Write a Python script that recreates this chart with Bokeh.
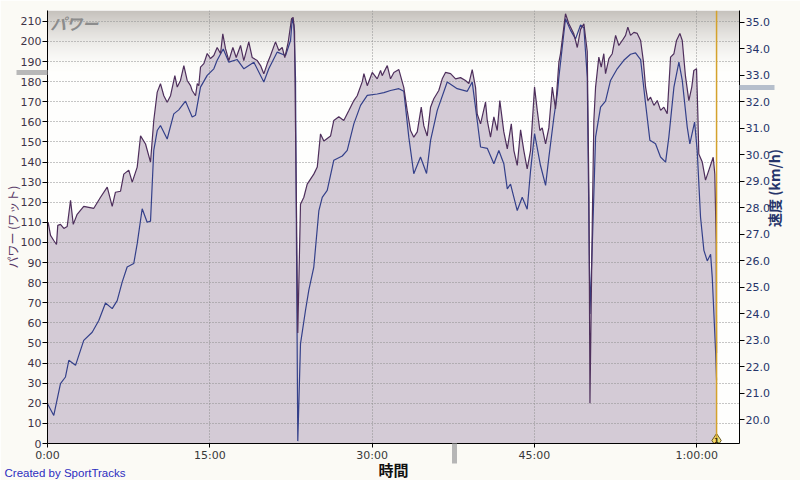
import numpy as np
from bokeh.plotting import figure
from bokeh.models import (Range1d, LinearAxis, FixedTicker, Span, Label, Title,
                          NumeralTickFormatter)
from bokeh.embed import file_html
from bokeh.resources import INLINE

# ---------------- data (minutes, watts / km/h) ----------------
power_min = [0.00, 0.06, 0.28, 0.58, 0.83, 0.95, 1.20, 1.51, 1.82, 2.13, 2.38, 2.74,
             3.35, 4.28, 4.90, 5.52, 5.98, 6.28, 6.75, 7.05, 7.51, 7.83, 8.29, 8.60,
             9.06, 9.52, 9.82, 10.14, 10.44, 10.75, 11.06, 11.37, 11.77, 11.99, 12.29, 12.60,
             12.91, 13.22, 13.37, 13.68, 13.84, 13.98, 14.14, 14.45, 14.76, 15.06, 15.37, 15.68,
             15.99, 16.20, 16.45, 16.76, 17.13, 17.44, 17.84, 18.14, 18.60, 18.92, 19.38, 19.69,
             19.99, 20.31, 20.61, 21.07, 21.38, 21.69, 21.93, 22.25, 22.55, 22.70, 22.83, 22.92,
             23.01, 23.13, 23.38, 23.69, 24.00, 24.61, 24.93, 25.23, 25.54, 26.16, 26.46, 26.92,
             27.38, 27.85, 28.31, 28.62, 29.09, 29.24, 29.55, 30.01, 30.47, 30.78, 30.93, 31.40,
             31.70, 32.01, 32.47, 32.93, 33.24, 33.55, 33.85, 34.17, 34.54, 34.78, 35.09, 35.40,
             35.70, 36.16, 36.48, 36.78, 37.25, 37.71, 38.17, 38.63, 38.94, 39.25, 39.56, 39.71,
             40.02, 40.48, 40.64, 40.94, 41.25, 41.56, 41.80, 42.17, 42.49, 42.86, 43.10, 43.41,
             43.72, 44.02, 44.33, 44.64, 45.01, 45.26, 45.50, 45.72, 46.03, 46.33, 46.65, 46.95,
             47.26, 47.41, 47.87, 48.18, 48.64, 48.96, 49.26, 49.57, 49.88, 50.04, 50.13, 50.35,
             50.49, 50.65, 50.95, 51.17, 51.41, 51.57, 51.88, 52.19, 52.50, 52.80, 53.12, 53.42,
             53.63, 53.88, 54.19, 54.50, 54.81, 55.06, 55.27, 55.48, 55.73, 56.04, 56.35, 56.66,
             56.96, 57.27, 57.58, 57.89, 58.13, 58.44, 58.66, 58.96, 59.27, 59.54, 59.73, 59.98,
             60.10, 60.19, 60.51, 60.81, 61.12, 61.52, 61.67, 61.80, 61.83]
power_w = [108, 110, 103.5, 101, 99, 108.5, 109, 107, 108, 121, 109, 114,
           118, 117, 122.5, 127.5, 118, 125, 125.5, 134, 136, 130, 137.5, 153,
           149, 140, 160.7, 174.8, 179, 173, 169.8, 173, 183, 177.3, 180.6, 188,
           180.6, 178, 175.6, 173, 179, 178, 187.2, 189, 194, 191.5, 193, 197,
           194, 203.8, 196.4, 190.5, 197, 192, 198, 190.5, 199.8, 192, 190.5, 188,
           183.9, 189, 193, 199.8, 195.5, 197, 192, 199.8, 211.3, 212, 205, 157,
           116, 55, 119, 122.5, 129, 134, 137.5, 154, 150.5, 153, 160.7, 162.5,
           160.7, 165.7, 170.6, 173, 180, 184, 178, 184.6, 181.4, 185.6, 183, 188,
           181.4, 184.6, 186, 177, 165.7, 155.7, 152.4, 155, 167.3, 158, 153, 167.3,
           171.5, 175.6, 181.4, 184.6, 184, 181.4, 182, 180.6, 179, 186, 177, 164,
           159, 169.8, 160.7, 152.4, 162.5, 155.7, 170.6, 155, 146.6, 159, 145.7, 138.3,
           156, 145.7, 136.6, 145.7, 177.3, 165.7, 155.7, 157, 149, 157, 177.3, 166.5,
           189.7, 194, 213.8, 208.8, 203.8, 197, 206, 208.8, 195, 122.5, 20, 112.6,
           160.7, 177.3, 192.2, 187.2, 193.9, 184, 191.5, 193.9, 203, 198, 200.5, 203,
           207.1, 203, 204.5, 204, 200.5, 190.5, 177.3, 170.6, 172.3, 168.2, 170.6, 165.7,
           167.3, 164, 192.2, 193.9, 200.5, 204, 200.5, 182.6, 170.6, 177.3, 185.6, 186.4,
           164, 144, 140, 131, 136, 142.4, 134, 99, 45]

speed_min = [0.00, 0.58, 1.20, 1.66, 1.97, 2.59, 3.35, 4.13, 4.74, 5.36, 5.98, 6.44,
             6.90, 7.36, 7.97, 8.29, 8.75, 9.21, 9.52, 9.82, 10.14, 10.44, 11.06, 11.67,
             12.13, 12.75, 13.37, 13.68, 14.14, 14.76, 15.37, 15.68, 16.24, 16.76, 17.53,
             18.15, 19.07, 19.99, 20.45, 21.23, 22.00, 22.46, 22.62, 22.77, 22.92, 23.01,
             23.13, 23.38, 23.84, 24.15, 24.61, 25.08, 25.39, 25.85, 26.46, 27.24, 27.70,
             28.31, 28.93, 29.55, 30.47, 31.09, 31.70, 32.47, 32.93, 33.39, 33.85, 34.47,
             35.03, 35.40, 36.02, 36.94, 37.86, 38.79, 39.25, 39.71, 40.02, 40.64, 41.25,
             41.71, 42.17, 42.49, 42.79, 43.10, 43.41, 43.87, 44.33, 44.64, 45.01, 45.56,
             46.03, 46.33, 46.49, 46.80, 47.11, 47.26, 47.57, 47.87, 48.34, 48.80, 49.26,
             49.57, 49.88, 50.13, 50.35, 50.65, 51.11, 51.57, 52.03, 52.65, 53.26, 53.88,
             54.34, 54.81, 55.27, 55.67, 56.19, 56.65, 57.12, 57.42, 57.89, 58.35, 58.66,
             59.12, 59.36, 59.80, 60.04, 60.35, 60.66, 60.97, 61.28, 61.43, 61.74, 61.83]
speed_kmh = [20.61, 20.17, 21.37, 21.62, 22.25, 22.06, 23.0, 23.31, 23.75, 24.41, 24.2, 24.5,
             25.2, 25.77, 25.9, 26.65, 27.97, 27.46, 27.5, 30.17, 30.92, 31.11, 30.6, 31.55,
             31.7, 32.03, 31.43, 31.5, 32.56, 33.0, 33.25, 33.57, 34.0, 33.5, 33.6,
             33.25, 33.5, 32.75, 33.25, 33.88, 33.75, 34.32, 35.14, 34.9, 32.9, 26.6,
             19.2, 22.87, 24.13, 24.9, 25.77, 27.9, 28.4, 28.66, 29.8, 29.96, 30.17,
             31.17, 31.87, 32.25, 32.3, 32.35, 32.43, 32.5, 32.4, 30.67, 29.29, 29.92,
             29.3, 30.55, 31.68, 32.75, 32.5, 32.4, 32.75, 31.3, 30.3, 30.25, 29.67,
             30.17, 29.67, 28.72, 28.9, 28.4, 27.9, 28.4, 27.95, 29.4, 30.8, 29.6,
             28.85, 29.9, 30.42, 31.43, 32.3, 32.94, 34.07, 35.14, 34.7, 34.38, 34.9,
             34.8, 32.94, 24.0, 26.65, 30.67, 31.8, 32.03, 32.81, 33.25, 33.57, 33.8,
             33.85, 33.6, 31.93, 30.55, 30.42, 29.92, 29.73, 30.67, 32.56, 33.5, 32.81,
             31.05, 30.42, 31.24, 30.17, 27.65, 26.4, 26.0, 26.25, 25.39, 22.6, 21.5]

x_ticks = [0, 15, 30, 45, 60]
x_tick_labels = ["0:00", "15:00", "30:00", "45:00", "1:00:00"]
power_ticks = list(range(0, 211, 10))
speed_ticks = [float(v) for v in range(20, 36)]
lap_marker_min = 61.83
x_max = 63.95
power_range = (0, 215.4)
speed_range = (19.11, 35.45)
# positions of the three grey range-slider handles
slider_power = 184.4
slider_speed = 32.53
slider_time = 37.57

# ---------------- figure ----------------
BG = "#fbfaf5"
p = figure(width=800, height=480, output_backend="svg", toolbar_location=None,
           x_range=Range1d(0, x_max), y_range=Range1d(*power_range),
           min_border_left=47, min_border_right=61, min_border_top=10,
           min_border_bottom=37, border_fill_color=BG,
           background_fill_color="#fefefd", outline_line_color=None)
p.extra_y_ranges = {"speed": Range1d(*speed_range)}

# top gradient inside the plot area
n = 61
rows = np.zeros((n, 1), dtype=np.uint32)
view = rows.view(dtype=np.uint8).reshape((n, 1, 4))
top_c = np.array([198, 194, 189])
bot_c = np.array([254, 254, 252])
for i in range(n):
    t = (i / (n - 1)) ** 1.6
    c = bot_c + (top_c - bot_c) * t
    view[i, 0, :3] = c.astype(np.uint8)
    view[i, 0, 3] = 255
p.image_rgba(image=[rows], x=0, y=185.0, dw=x_max, dh=power_range[1] - 185.0,
             level="image")

# power area
p.varea(x=power_min, y1=0, y2=power_w, fill_color="#d4cbd6", level="image")

# grid
p.xgrid.ticker = FixedTicker(ticks=x_ticks)
p.ygrid.ticker = FixedTicker(ticks=power_ticks)
for g in (p.xgrid, p.ygrid):
    g.grid_line_color = "#8f8f8f"
    g.grid_line_dash = "1 2"
    g.grid_line_width = 1

# lines
p.line(speed_min, speed_kmh, y_range_name="speed", line_color="#34408a", line_width=1.2)
p.line(power_min, power_w, line_color="#4e2f5c", line_width=1.2)

# axes
FONT = "DejaVu Sans"
CJK = "Noto Sans CJK JP"
p.xaxis.ticker = FixedTicker(ticks=x_ticks, minor_ticks=[slider_time])
p.xaxis.major_label_overrides = {t: l for t, l in zip(x_ticks, x_tick_labels)}
p.yaxis.ticker = FixedTicker(ticks=power_ticks, minor_ticks=[slider_power])
ax_r = LinearAxis(y_range_name="speed",
                  ticker=FixedTicker(ticks=speed_ticks, minor_ticks=[slider_speed]),
                  formatter=NumeralTickFormatter(format="0.0"))
p.add_layout(ax_r, "right")

for ax, col in ((p.xaxis[0], "#383838"), (p.yaxis[0], "#3d3347"), (ax_r, "#25346a")):
    ax.axis_line_color = "black"
    ax.major_tick_line_color = "black"
    ax.major_tick_out = 5
    ax.major_tick_in = 0
    ax.minor_tick_in = 0
    ax.minor_tick_line_width = 5
    ax.major_label_text_font = FONT
    ax.major_label_text_font_size = "11px"
    ax.major_label_text_color = col
    ax.axis_label_text_font = CJK

# x axis: grey slider handle as a long minor tick, labels pulled back up
p.xaxis.major_tick_out = 4
p.xaxis.minor_tick_out = 20
p.xaxis.minor_tick_line_color = "#b6b6b6"
p.xaxis.major_label_standoff = -15
p.xaxis.axis_label = " "
p.xaxis.axis_label_text_font = FONT
p.xaxis.axis_label_text_font_size = "4px"
p.xaxis.axis_label_standoff = -6

# left axis
p.yaxis.minor_tick_out = 31
p.yaxis.minor_tick_line_color = "#b8b8b8"
p.yaxis.major_label_standoff = -25
p.yaxis.axis_label = "パワー (ワット)"
p.yaxis.axis_label_text_font_size = "12px"
p.yaxis.axis_label_text_font_style = "normal"
p.yaxis.axis_label_text_color = "#5a3a68"
p.yaxis.axis_label_standoff = -3

# right axis
ax_r.minor_tick_out = 35
ax_r.minor_tick_line_color = "#b6bfcc"
ax_r.major_label_standoff = -29
ax_r.axis_label = "速度 (km/h)"
ax_r.axis_label_text_font_size = "14px"
ax_r.axis_label_text_font_style = "bold"
ax_r.axis_label_text_color = "#25346a"
ax_r.axis_label_standoff = 1
try:
    ax_r.axis_label_orientation = np.pi / 2
except Exception:
    pass

# bottom titles: axis name and credit line
t_time = Title(text="時間", align="center", vertical_align="middle",
               text_font=CJK, text_font_size="15px", text_font_style="bold",
               text_color="#111111")
t_credit = Title(text="Created by SportTracks", align="left", vertical_align="middle",
                 text_font="Liberation Sans", text_font_size="11.5px",
                 text_font_style="normal", text_color="#2d2dbf")
for t, s in ((t_time, -18), (t_credit, -11)):
    try:
        t.standoff = s
    except Exception:
        pass
try:
    t_credit.offset = -43
except Exception:
    pass
p.add_layout(t_time, "below")
p.add_layout(t_credit, "below")

# lap marker
p.add_layout(Span(location=lap_marker_min, dimension="height",
                  line_color="#d4a22c", line_width=1.5))
p.scatter(x=[lap_marker_min], y=[1.5], marker="diamond", size=14,
          fill_color="#f2de70", line_color="#6a5a22", line_width=1)
p.add_layout(Label(x=lap_marker_min, y=1.5, text="1", text_font=FONT,
                   text_font_size="7px", text_color="#3a3010",
                   text_font_style="bold",
                   text_align="center", text_baseline="middle"))

# in-plot title
p.add_layout(Label(x=0.25, y=power_range[1], text="パワー", text_font=CJK,
                   text_font_size="16px", text_font_style="bold italic",
                   text_color="#8c8c8c", text_baseline="top", text_align="left"))

html = file_html(p, INLINE)
html = html.replace("<body>", '<body style="background-color:%s;">' % BG, 1)
open("out.html", "w").write(html)
